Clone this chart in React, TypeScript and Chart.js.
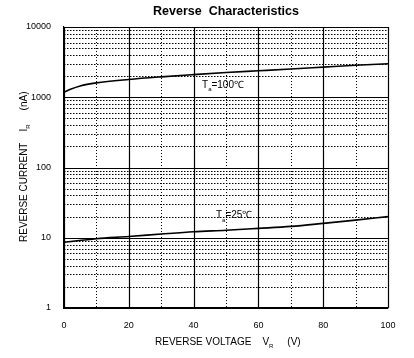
import React, { useEffect, useRef } from "react";
import { Chart, registerables } from "chart.js";

Chart.register(...registerables);

const voltages = [0, 2, 5, 10, 20, 30, 40, 50, 60, 70, 80, 90, 100];
const current100 = [1180, 1300, 1450, 1600, 1790, 1950, 2100, 2250, 2380, 2520, 2680, 2850, 3000];
const voltages25 = [0, 10, 20, 30, 40, 50, 60, 70, 80, 90, 100];
const current25 = [8.6, 9.7, 10.4, 11.3, 12.2, 12.8, 13.6, 14.5, 16, 17.8, 20];
const yTickValues = [1, 10, 100, 1000, 10000];
const xTickValues = [0, 20, 40, 60, 80, 100];
const xMinorValues = [10, 30, 50, 70, 90];

const FONT = "Arial, 'Liberation Sans', sans-serif";

const decorPlugin = {
  id: "decor",
  beforeDatasetsDraw(chart: any) {
    const { ctx, chartArea: a, scales } = chart;
    const xs = scales.x;
    const ys = scales.y;
    ctx.save();
    ctx.strokeStyle = "#000";
    ctx.lineWidth = 1;
    ctx.setLineDash([1.5, 1.5]);
    ctx.beginPath();
    for (let d = 1; d < 10000; d *= 10) {
      for (let m = 2; m <= 9; m++) {
        const y = Math.round(ys.getPixelForValue(d * m)) + 0.5;
        ctx.moveTo(a.left, y);
        ctx.lineTo(a.right, y);
      }
    }
    ctx.stroke();
    ctx.setLineDash([1, 2]);
    ctx.beginPath();
    for (const v of xMinorValues) {
      const x = Math.round(xs.getPixelForValue(v)) + 0.5;
      ctx.moveTo(x, a.top);
      ctx.lineTo(x, a.bottom);
    }
    ctx.stroke();
    ctx.setLineDash([]);
    ctx.lineWidth = 1.2;
    ctx.beginPath();
    for (const v of yTickValues) {
      const y = Math.round(ys.getPixelForValue(v)) + 0.5;
      ctx.moveTo(a.left, y);
      ctx.lineTo(a.right, y);
    }
    for (const v of xTickValues) {
      const x = Math.round(xs.getPixelForValue(v)) + 0.5;
      ctx.moveTo(x, a.top);
      ctx.lineTo(x, a.bottom);
    }
    ctx.stroke();
    ctx.restore();
  },
  afterDraw(chart: any) {
    const { ctx, chartArea: a, scales } = chart;
    const xs = scales.x;
    const ys = scales.y;
    ctx.save();
    ctx.fillStyle = "#000";
    ctx.font = `bold 12.5px ${FONT}`;
    ctx.textAlign = "center";
    ctx.textBaseline = "middle";
    ctx.fillText("Reverse  Characteristics", (a.left + a.right) / 2, 12);

    const drawSub = (x: number, y: number, main: string, sub: string, rest: string, size: number) => {
      ctx.textAlign = "left";
      ctx.textBaseline = "middle";
      ctx.font = `${size}px ${FONT}`;
      ctx.fillText(main, x, y);
      let w = ctx.measureText(main).width;
      ctx.font = `${Math.round(size * 0.6)}px ${FONT}`;
      ctx.fillText(sub, x + w, y + size * 0.45);
      w += ctx.measureText(sub).width;
      ctx.font = `${size}px ${FONT}`;
      ctx.fillText(rest, x + w, y);
    };
    drawSub(xs.getPixelForValue(42.6), ys.getPixelForValue(1482), "T", "a", "=100℃", 10);
    drawSub(xs.getPixelForValue(46.9), ys.getPixelForValue(20.6), "T", "a", "=25℃", 10);

    drawSub(155, 342, "REVERSE VOLTAGE    V", "R", "     (V)", 10);

    ctx.translate(24, 242);
    ctx.rotate(-Math.PI / 2);
    drawSub(0, 0, "REVERSE CURRENT    I", "R", "     (nA)", 10);
    ctx.restore();
  },
};

export default function App() {
  const ref = useRef<HTMLCanvasElement>(null);
  useEffect(() => {
    document.body.style.margin = "0";
    const chart = new Chart(ref.current!, {
      type: "line",
      data: {
        datasets: [
          {
            label: "Ta=100℃",
            data: voltages.map((v, i) => ({ x: v, y: current100[i] })),
            borderColor: "#000",
            borderWidth: 1.6,
            pointRadius: 0,
            cubicInterpolationMode: "monotone",
          },
          {
            label: "Ta=25℃",
            data: voltages25.map((v, i) => ({ x: v, y: current25[i] })),
            borderColor: "#000",
            borderWidth: 1.6,
            pointRadius: 0,
            cubicInterpolationMode: "monotone",
          },
        ],
      },
      options: {
        animation: false,
        responsive: false,
        layout: { padding: { left: 0, right: 26, top: 27, bottom: 0 } },
        plugins: { legend: { display: false }, tooltip: { enabled: false } },
        scales: {
          x: {
            type: "linear",
            min: 0,
            max: 100,
            afterBuildTicks: (s: any) => {
              s.ticks = xTickValues.map((v) => ({ value: v }));
            },
            afterFit: (s: any) => {
              s.height = 50;
            },
            grid: { display: false },
            border: { display: true, color: "#000", width: 1.2 },
            ticks: { color: "#000", font: { family: FONT, size: 9 }, padding: 4, maxRotation: 0 },
          },
          y: {
            type: "logarithmic",
            min: 1,
            max: 10000,
            afterBuildTicks: (s: any) => {
              s.ticks = yTickValues.map((v) => ({ value: v }));
            },
            afterFit: (s: any) => {
              s.width = 64;
            },
            grid: { display: false },
            border: { display: true, color: "#000", width: 1.2 },
            ticks: {
              color: "#000",
              font: { family: FONT, size: 9 },
              padding: 5,
              callback: (v: any) => String(v),
            },
          },
        },
      },
      plugins: [decorPlugin],
    } as any);
    return () => chart.destroy();
  }, []);
  return <canvas ref={ref} width={414} height={358} />;
}
